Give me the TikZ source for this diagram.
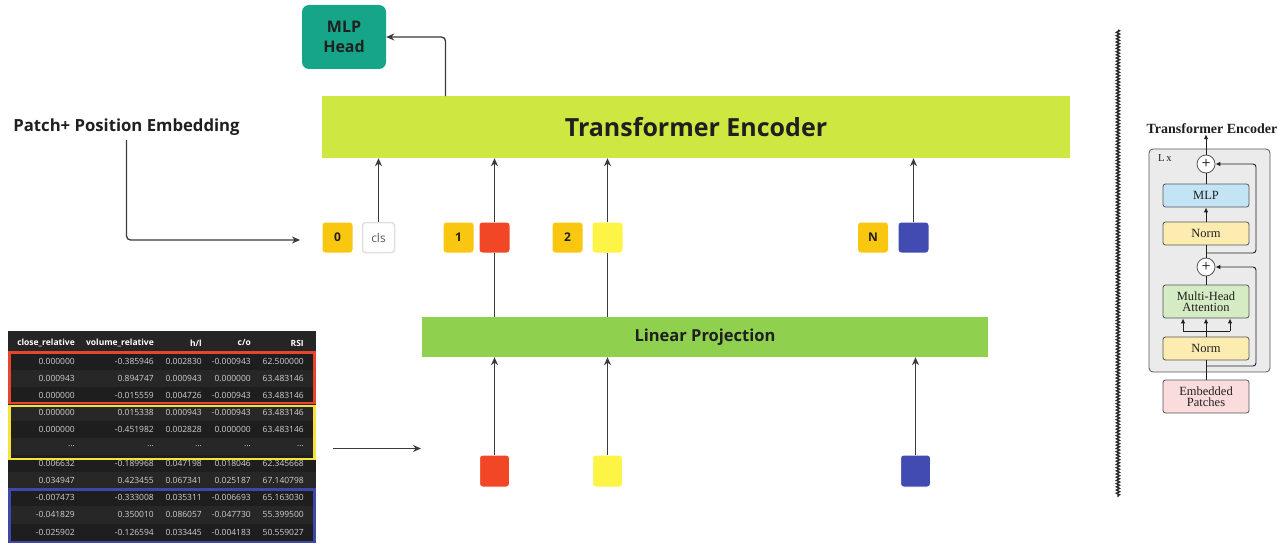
\documentclass[tikz,border=0pt]{standalone}
\usepackage{fontspec}
\setmainfont{Open Sans}
\newfontfamily\paperfont{Liberation Serif}
\usetikzlibrary{arrows.meta,decorations.pathmorphing,calc}
\newcommand\tabdots{...}
\definecolor{ink}{HTML}{1F1F1F}
\definecolor{arr}{HTML}{3A3A3A}
\definecolor{teal}{HTML}{17A589}
\definecolor{lime}{HTML}{CEE741}
\definecolor{lpgreen}{HTML}{8FD14F}
\definecolor{tokyel}{HTML}{FAC710}
\definecolor{pred}{HTML}{F24726}
\definecolor{pyel}{HTML}{FEF445}
\definecolor{pblue}{HTML}{414BB2}
\definecolor{tbg}{HTML}{1E1E1E}
\definecolor{tbg2}{HTML}{272727}
\definecolor{thead}{HTML}{252526}
\definecolor{ttext}{HTML}{D0D0D0}
\definecolor{bred}{HTML}{E8452C}
\definecolor{byel}{HTML}{F5E23A}
\definecolor{bblue}{HTML}{3F48A8}
\definecolor{pgray}{HTML}{EBEBEB}
\definecolor{pline}{HTML}{555555}
\definecolor{pmlp}{HTML}{C3E4F5}
\definecolor{pnorm}{HTML}{FDECB0}
\definecolor{pmha}{HTML}{D5EBC4}
\definecolor{pemb}{HTML}{FADCDC}
\begin{document}
\begin{tikzpicture}[x=1pt,y=-1pt,
  bigbox/.style={inner sep=0pt,font=\bfseries,text=ink},
  tok/.style={rounded corners=3pt,minimum width=30pt,minimum height=30pt,inner sep=0pt,font=\bfseries\fontsize{12}{12}\selectfont,text=ink},
  patchsq/.style={rounded corners=3pt,minimum width=30pt,minimum height=32pt,inner sep=0pt,draw=white,line width=1pt},
  conn/.style={draw=arr,line width=1.3pt},
  arrow/.style={conn,-{Stealth[length=8pt,width=7pt]}},
  cell/.style={anchor=east,inner sep=0pt,text=ttext,font=\fontsize{8.5}{8.5}\selectfont},
  hcell/.style={anchor=east,inner sep=0pt,text=white,font=\bfseries\fontsize{8.5}{8.5}\selectfont},
  pbox/.style={draw=pline,line width=0.8pt,rounded corners=2.5pt,minimum width=86pt,inner sep=0pt,font=\paperfont\fontsize{12.5}{13}\selectfont,align=center,text=ink},
  pplus/.style={circle,draw=pline,fill=white,line width=0.8pt,minimum size=18pt,inner sep=0pt,font=\paperfont\fontsize{16}{16}\selectfont},
  pconn/.style={draw=ink,line width=0.9pt},
  parrow/.style={pconn,-{Latex[length=5pt,width=4.5pt]}},
]
\useasboundingbox[fill=white] (0,0) rectangle (1287,551);

% ---------- main diagram ----------
\node[bigbox,fill=teal,rounded corners=7pt,minimum width=84pt,minimum height=64pt,align=center,font=\bfseries\fontsize{16}{20}\selectfont] (mlp) at (344,37) {MLP\\Head};
\node[bigbox,fill=lime,minimum width=748pt,minimum height=62pt,font=\bfseries\fontsize{25}{25}\selectfont] (te) at (696,127) {Transformer Encoder};
\node[bigbox,fill=lpgreen,minimum width=566pt,minimum height=40pt,font=\bfseries\fontsize{16.5}{16.5}\selectfont] (lp) at (705,337) {Linear Projection};
\node[inner sep=0pt,font=\bfseries\fontsize{16.7}{16.7}\selectfont,text=ink] (pe) at (126.5,127) {Patch+ Position Embedding};

\node[tok,fill=tokyel] (p0) at (337.5,237.5) {0};
\node[tok,fill=white,draw=black!12,line width=1.5pt,minimum width=32pt,font=\fontsize{12}{12}\selectfont,text=black!65] (cls) at (378.5,237.5) {cls};
\node[tok,fill=tokyel] (p1) at (458.5,237.5) {1};
\node[tok,fill=pred] (t1) at (494.5,237.5) {};
\node[tok,fill=tokyel] (p2) at (567.5,237.5) {2};
\node[tok,fill=pyel] (t2) at (607.5,237.5) {};
\node[tok,fill=tokyel] (pn) at (873,237.5) {N};
\node[tok,fill=pblue] (tn) at (913.5,237.5) {};

\node[patchsq,fill=pred] (s1) at (494.5,471) {};
\node[patchsq,fill=pyel] (s2) at (607.5,471) {};
\node[patchsq,fill=pblue] (sn) at (915.5,471) {};

% connectors
\coordinate (teout) at (445.5,96);
\draw[arrow,rounded corners=4pt] (teout) |- (mlp.east);
\coordinate (pestart) at (126.5,140);
\coordinate (peend) at (300,240);
\draw[arrow,rounded corners=4pt] (pestart) |- (peend);
\draw[arrow] (cls.north) -- (cls.north |- te.south);
\draw[arrow] (t1.north) -- (t1.north |- te.south);
\draw[arrow] (t2.north) -- (t2.north |- te.south);
\draw[arrow] (tn.north) -- (tn.north |- te.south);
\draw[conn] (t1.south |- lp.north) -- (t1.south);
\draw[conn] (t2.south |- lp.north) -- (t2.south);
\draw[arrow] (s1.north) -- (s1.north |- lp.south);
\draw[arrow] (s2.north) -- (s2.north |- lp.south);
\draw[arrow] (sn.north) -- (sn.north |- lp.south);
\coordinate (tabout) at (333,448.5);
\coordinate (tabin) at (421,448.5);
\draw[arrow] (tabout) -- (tabin);

% ---------- table ----------
\fill[tbg] (8,331) rectangle (316,543);
\fill[thead] (8,331) rectangle (316,352.5);
\foreach \r in {2,4,6,8,10} {
  \fill[tbg2] (8,{352.5+(\r-1)*17.1}) rectangle (316,{352.5+\r*17.1});
}
\node[hcell] (h1) at (75,343) {close\_relative};
\node[hcell] (h2) at (154,343) {volume\_relative};
\node[hcell] (h3) at (202,343) {h/l};
\node[hcell] (h4) at (251,343) {c/o};
\node[hcell] (h5) at (304,343) {RSI};
\foreach \r/\a/\b/\c/\d/\e in {
  1/0.000000/-0.385946/0.002830/-0.000943/62.500000,
  2/0.000943/0.894747/0.000943/0.000000/63.483146,
  3/0.000000/-0.015559/0.004726/-0.000943/63.483146,
  4/0.000000/0.015338/0.000943/-0.000943/63.483146,
  5/0.000000/-0.451982/0.002828/0.000000/63.483146,
  6/\tabdots/\tabdots/\tabdots/\tabdots/\tabdots,
  7/0.006632/-0.189968/0.047198/0.018046/62.345668,
  8/0.034947/0.423455/0.067341/0.025187/67.140798,
  9/-0.007473/-0.333008/0.035311/-0.006693/65.163030,
  10/-0.041829/0.350010/0.086057/-0.047730/55.399500,
  11/-0.025902/-0.126594/0.033445/-0.004183/50.559027} {
  \node[cell] (c\r a) at (75,{361+(\r-1)*17.1}) {\a};
  \node[cell] (c\r b) at (154,{361+(\r-1)*17.1}) {\b};
  \node[cell] (c\r c) at (202,{361+(\r-1)*17.1}) {\c};
  \node[cell] (c\r d) at (251,{361+(\r-1)*17.1}) {\d};
  \node[cell] (c\r e) at (304,{361+(\r-1)*17.1}) {\e};
}
\draw[bred,line width=2.5pt] (9.5,352.5) rectangle (314.5,403);
\draw[byel,line width=2.5pt] (9.5,406) rectangle (314.5,459);
\draw[bblue,line width=2.5pt] (9.5,489.5) rectangle (314.5,542);

% ---------- separator ----------
\coordinate (zt) at (1118,30);
\coordinate (zb) at (1118,497);
\draw[black!85,line width=1.4pt,decorate,decoration={zigzag,segment length=3.2pt,amplitude=1.5pt}] (zt) -- (zb);

% ---------- right panel ----------
\node[font=\paperfont\bfseries\fontsize{14}{14}\selectfont,text=ink,inner sep=0pt] (ptitle) at (1212,129) {Transformer Encoder};
\node[draw=pline,fill=pgray,line width=0.8pt,rounded corners=4pt,minimum width=121pt,minimum height=223pt,inner sep=0pt] (pg) at (1209.5,260.5) {};
\node[font=\paperfont\fontsize{10.5}{10.5}\selectfont,text=ink,inner sep=0pt,anchor=west] (lx) at (1158,158) {L\,x};
\node[pplus] (plus1) at (1206,164) {+};
\node[pbox,fill=pmlp,minimum height=23pt] (pmlpn) at (1206,195.5) {MLP};
\node[pbox,fill=pnorm,minimum height=23pt] (pn1) at (1206,233.5) {Norm};
\node[pplus] (plus2) at (1206,267) {+};
\node[pbox,fill=pmha,minimum height=33pt] (pmhan) at (1206,301.5) {Multi-Head\\[-2pt]Attention};
\node[pbox,fill=pnorm,minimum height=23pt] (pn2) at (1206,348.5) {Norm};
\node[pbox,fill=pemb,minimum height=33pt] (pemb) at (1206,396.5) {Embedded\\[-2pt]Patches};

\draw[parrow] (plus1.north) -- (plus1.north |- ptitle.south);
\draw[pconn] (pmlpn.north) -- (plus1.south);
\draw[parrow] (pn1.north) -- (pmlpn.south);
\draw[pconn] (plus2.north) -- (pn1.south);
\draw[pconn] (pmhan.north) -- (plus2.south);
\coordinate (split) at (1206,331);
\coordinate (splitl) at (1183,331);
\coordinate (splitr) at (1230,331);
\draw[pconn] (pemb.north) -- (pn2.south);
\draw[pconn] (pn2.north) -- (split);
\draw[pconn] (splitl) -- (splitr);
\draw[parrow] (splitl) -- (splitl |- pmhan.south);
\draw[parrow] (split) -- (pmhan.south);
\draw[parrow] (splitr) -- (splitr |- pmhan.south);
\coordinate (b1) at (1206,253);
\coordinate (b2) at (1206,366);
\draw[parrow,rounded corners=3pt] (b1) -- (1256,253) |- (plus1.east);
\draw[parrow,rounded corners=3pt] (b2) -- (1256,366) |- (plus2.east);
\end{tikzpicture}
\end{document}
